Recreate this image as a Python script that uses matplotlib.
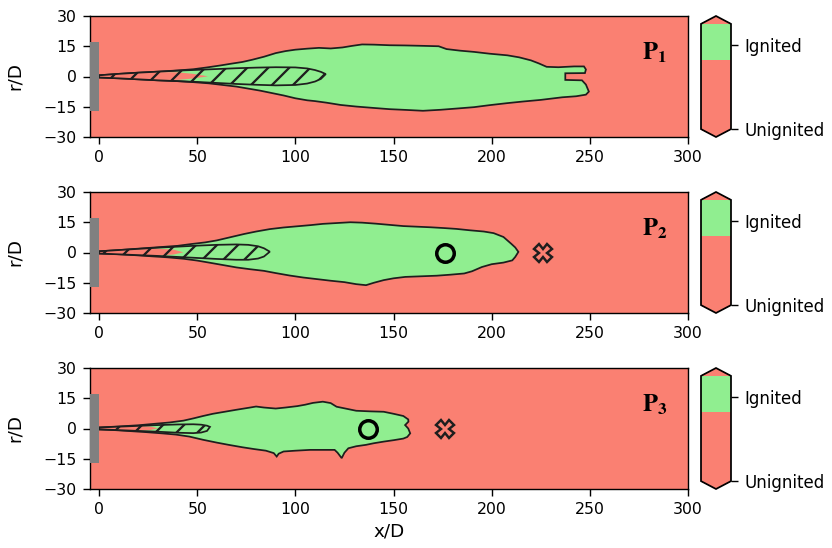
import numpy as np
import matplotlib
matplotlib.use("Agg")
import matplotlib.pyplot as plt
from matplotlib.patches import Polygon, Rectangle
from matplotlib.colors import ListedColormap, BoundaryNorm
from matplotlib.cm import ScalarMappable

# ---------------------------------------------------------------- data
panel_names = ["1", "2", "3"]

# Ignited-region boundary (x/D, r/D), traced clockwise from the nozzle
p1_x = [0, 10, 20, 30, 40, 48, 55, 62, 67, 73, 78, 84, 90, 95, 100, 106, 112, 118,
        124, 129, 134, 140, 148, 156, 165, 173, 177, 184, 191, 199, 208, 214, 220,
        224, 228, 234, 242, 247, 248, 247.5, 237.5, 237.5, 246, 248, 249.5, 248,
        243, 236, 225, 216, 208, 199, 191, 182, 174, 165, 157, 148, 140, 131, 123,
        116, 110, 106, 100, 94, 88, 82, 76, 70, 63, 56, 48, 40, 30, 20, 10, 0]
p1_r = [0.6, 1.3, 1.9, 2.4, 3.0, 3.6, 4.5, 5.5, 6.3, 7.2, 8.3, 9.8, 11.6, 12.6, 13.3,
        13.8, 14.2, 13.9, 14.4, 15.2, 15.9, 15.8, 15.5, 15.4, 15.2, 15.0, 13.6, 12.8,
        12.2, 11.3, 10.5, 9.5, 8.0, 6.5, 4.8, 4.6, 5.0, 5.0, 3.5, 1.7, 1.6, -1.7,
        -1.9, -4.0, -7.5, -9.0, -9.8, -10.3, -11.6, -12.4, -13.2, -14.2, -15.2,
        -15.9, -16.5, -17.0, -16.6, -16.2, -15.6, -14.9, -14.1, -13.0, -12.2, -11.8,
        -10.8, -9.4, -8.2, -7.0, -6.0, -5.0, -4.2, -3.4, -2.8, -2.3, -1.9, -1.4,
        -0.9, -0.5]

p2_x = [0, 10, 20, 30, 40, 47, 54, 60, 67, 74, 80, 87, 94, 101, 108, 114, 121, 128,
        134, 141, 148, 155, 162, 169, 176, 182, 189, 196, 201, 206, 208, 210, 212,
        213.6, 212, 210.5, 206, 200, 195, 190, 186, 179, 172, 164, 156, 150, 145,
        140, 136, 131, 125, 118, 111, 104, 97, 90, 84, 77, 70, 63, 56, 50, 43, 35,
        27, 18, 9, 0]
p2_r = [0.6, 1.2, 1.9, 2.6, 3.3, 4.2, 5.0, 6.0, 7.6, 9.2, 10.4, 11.6, 12.4, 13.0,
        13.6, 14.2, 14.6, 15.0, 14.8, 14.3, 13.7, 13.1, 12.8, 12.5, 12.1, 11.7,
        11.0, 10.4, 9.6, 7.7, 6.0, 4.3, 2.5, 0.3, -2.2, -3.9, -5.0, -5.8, -7.2,
        -9.3, -10.4, -11.0, -11.5, -11.8, -12.1, -12.8, -13.7, -15.0, -16.2, -15.7,
        -14.7, -14.0, -13.2, -12.4, -11.4, -10.2, -9.1, -8.3, -7.4, -6.2, -5.0,
        -4.0, -3.1, -2.4, -1.9, -1.3, -0.8, -0.5]

p3_x = [0, 10, 20, 28, 36, 43, 48, 53, 58, 64, 70, 77, 80, 84, 90, 95, 101, 105, 109,
        114, 118, 121, 126, 131, 138, 145, 150, 155, 157.5, 157.6, 155.9, 157.5,
        158.5, 157, 155, 150, 145, 140, 136, 131, 127, 125, 123.6, 121.5, 120, 114,
        107.5, 100, 94, 91.5, 90.5, 89, 85, 79, 73, 66, 60, 53, 46, 39, 32, 24, 16,
        8, 0]
p3_r = [0.5, 1.0, 1.6, 2.3, 3.0, 3.9, 5.0, 6.2, 7.3, 8.3, 9.3, 10.4, 10.9, 10.4, 9.9,
        10.4, 11.1, 11.8, 12.7, 13.3, 12.6, 10.8, 9.8, 8.8, 8.5, 8.3, 7.3, 6.2, 4.5,
        3.4, 1.7, 0.0, -2.4, -4.2, -5.0, -5.8, -6.5, -7.3, -8.1, -8.8, -9.8, -12.0,
        -14.7, -12.0, -10.6, -10.6, -10.6, -11.0, -11.4, -12.5, -13.9, -12.2, -11.0,
        -10.2, -9.3, -8.1, -7.0, -5.6, -4.0, -3.0, -2.4, -1.8, -1.3, -0.8, -0.5]

# Hatched jet region: axial stations with upper / lower edge
p1_jet_x = [0, 10, 20, 30, 40, 50, 60, 70, 80, 90, 100, 106, 110, 113, 115.5]
p1_jet_up = [0.6, 1.3, 1.9, 2.4, 2.9, 3.3, 3.7, 4.1, 4.4, 4.6, 4.5, 4.0, 3.2, 2.3, 1.2]
p1_jet_lo = [-0.5, -0.9, -1.4, -1.9, -2.3, -2.7, -3.2, -3.7, -4.1, -4.4, -4.2, -3.5,
             -2.5, -1.2, 1.2]

p2_jet_x = [0, 10, 20, 30, 40, 50, 60, 70, 76, 81, 84, 87]
p2_jet_up = [0.6, 1.2, 1.8, 2.4, 2.9, 3.4, 3.8, 4.0, 3.8, 3.1, 2.1, 0.4]
p2_jet_lo = [-0.5, -0.9, -1.3, -1.7, -2.2, -2.7, -3.2, -3.6, -3.6, -3.0, -2.0, 0.4]

p3_jet_x = [0, 10, 20, 30, 40, 48, 52, 55, 56.5]
p3_jet_up = [0.5, 0.9, 1.3, 1.7, 2.0, 2.1, 1.9, 1.4, 0.8]
p3_jet_lo = [-0.4, -0.8, -1.2, -1.6, -2.1, -2.3, -2.0, -1.2, 0.8]

# Unignited core inside the jet
p1_core_x = [0, 10, 20, 30, 40, 48, 55.5]
p1_core_up = [0.5, 1.2, 1.8, 2.2, 2.1, 1.3, 0.1]
p1_core_lo = [-0.4, -0.8, -1.3, -1.7, -1.7, -1.0, 0.1]

p2_core_x = [0, 10, 20, 30, 38, 43]
p2_core_up = [0.5, 1.1, 1.6, 1.9, 1.4, 0.1]
p2_core_lo = [-0.4, -0.8, -1.2, -1.5, -1.0, 0.1]

p3_core_x = [0, 10, 20, 26, 30]
p3_core_up = [0.4, 0.8, 1.2, 1.0, 0.1]
p3_core_lo = [-0.3, -0.7, -1.1, -0.8, 0.1]

# Probe locations (x/D) on the axis; None where no probe is shown
ignited_probe_x = [None, 176, 137]
unignited_probe_x = [None, 226, 176]

outlines = [(p1_x, p1_r), (p2_x, p2_r), (p3_x, p3_r)]
jets = [(p1_jet_x, p1_jet_up, p1_jet_lo), (p2_jet_x, p2_jet_up, p2_jet_lo),
        (p3_jet_x, p3_jet_up, p3_jet_lo)]
cores = [(p1_core_x, p1_core_up, p1_core_lo), (p2_core_x, p2_core_up, p2_core_lo),
         (p3_core_x, p3_core_up, p3_core_lo)]

x_ticks = [0, 50, 100, 150, 200, 250, 300]
r_ticks = [-30, -15, 0, 15, 30]
cbar_bounds = [0.0, 0.66, 1.0]
cbar_ticks = [0.0, 0.8]
cbar_labels = ["Unignited", "Ignited"]

# Nozzle plate
nozzle_x0, nozzle_x1 = -4.5, 0.0
nozzle_r = 17

# ---------------------------------------------------------------- style
UNIGN = "#fa8072"
IGN = "#90ee90"
EDGE = "#1e1e1e"

W, H, DPI = 832, 548, 126
plt.rcParams["font.family"] = ["DejaVu Sans"]
plt.rcParams["mathtext.fontset"] = "stix"
plt.rcParams["hatch.color"] = EDGE
plt.rcParams["hatch.linewidth"] = 1.3

fig = plt.figure(figsize=(W / DPI, H / DPI), dpi=DPI)


def frac_box(left, top, right, bottom):
    return [left / W, 1 - bottom / H, (right - left) / W, (bottom - top) / H]


panel_rows = [(16, 137), (192, 313), (368, 489)]

cmap = ListedColormap([UNIGN, IGN])
cmap.set_over(UNIGN)
cmap.set_under(UNIGN)
norm = BoundaryNorm(cbar_bounds, cmap.N)


def closed(xs, up, lo):
    xs = list(xs)
    return list(zip(xs + xs[::-1], list(up) + list(lo)[::-1]))


for i, (top, bottom) in enumerate(panel_rows):
    ax = fig.add_axes(frac_box(90, top, 688, bottom))
    ax.set_facecolor(UNIGN)
    ax.set_xlim(-4.6, 300)
    ax.set_ylim(-30, 30)
    ax.set_xticks(x_ticks)
    ax.set_yticks(r_ticks)
    ax.tick_params(labelsize=9, length=4)
    ax.set_ylabel("r/D", fontsize=10.5)
    ax.yaxis.set_label_coords(-0.11, 0.5)

    ox, orr = outlines[i]
    ax.add_patch(Polygon(list(zip(ox, orr)), closed=True, facecolor=IGN,
                         edgecolor=EDGE, linewidth=1.0, zorder=2))

    cx, cu, cl = cores[i]
    ax.add_patch(Polygon(closed(cx, cu, cl), closed=True, facecolor=UNIGN,
                         edgecolor="none", zorder=3))

    jx, ju, jl = jets[i]
    ax.add_patch(Polygon(closed(jx, ju, jl), closed=True, fill=False, hatch="//",
                         edgecolor=EDGE, linewidth=1.0, zorder=4))

    ax.add_patch(Rectangle((nozzle_x0, -nozzle_r), nozzle_x1 - nozzle_x0,
                           2 * nozzle_r, facecolor="#808080", edgecolor="none",
                           zorder=5, clip_on=False))

    if ignited_probe_x[i] is not None:
        ax.plot([ignited_probe_x[i]], [0], marker="o", ms=10, mfc="none",
                mec="black", mew=2.0, zorder=6)
    if unignited_probe_x[i] is not None:
        ax.plot([unignited_probe_x[i]], [0], marker="X", ms=10, mfc="none",
                mec=EDGE, mew=1.4, zorder=6)

    ax.text(283, 11.5, r"$\mathbf{P}_{\mathbf{" + panel_names[i] + "}}$",
            fontsize=14, ha="center", va="center", zorder=7)

    if i == 2:
        ax.set_xlabel("x/D", fontsize=10.5, labelpad=3)

    cax = fig.add_axes(frac_box(701, top, 731, bottom))
    cb = fig.colorbar(ScalarMappable(norm=norm, cmap=cmap), cax=cax,
                      extend="both", extendfrac=0.075, spacing="proportional",
                      ticks=cbar_ticks)
    cb.minorticks_off()
    cb.ax.set_yticklabels(cbar_labels)
    cb.ax.tick_params(labelsize=9.5, length=4)
    cb.outline.set_linewidth(1.0)

fig.savefig("out.png", dpi=DPI)
